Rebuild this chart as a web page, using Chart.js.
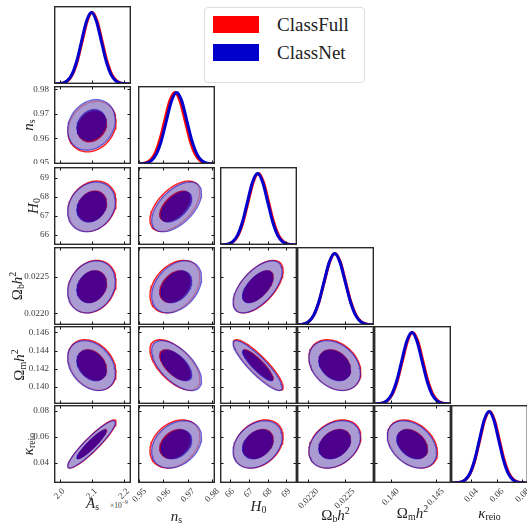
<!DOCTYPE html>
<html>
<head>
<meta charset="utf-8">
<script src="https://cdn.jsdelivr.net/npm/chart.js@4.4.1/dist/chart.umd.min.js"></script>
<style>
  body { margin: 0; width: 527px; height: 527px; overflow: hidden; background: #fff; position: relative;
         font-family: "Liberation Serif", "DejaVu Serif", serif; }
  .panel { position: absolute; }
  .axlab { position: absolute; font-size: 15px; line-height: 1; white-space: nowrap; color: #222;
           transform: translate(-50%, -50%); }
  .axlab.rot { transform: translate(-50%, -50%) rotate(-90deg); }
  .axlab sub { font-size: 66%; vertical-align: -0.3em; line-height: 0; }
  .axlab sup { font-size: 66%; vertical-align: 0.55em; line-height: 0; }
  #legend { position: absolute; left: 204px; top: 7px; width: 159px; height: 74px; border: 1px solid #ddd;
            border-radius: 4px; background: #fff; }
  #legend .sw { position: absolute; left: 8px; width: 46px; height: 17px; }
  #legend .tx { position: absolute; left: 72px; font-size: 19px; line-height: 1; color: #222; }
  #expo { position: absolute; left: 110px; top: 499px; font-size: 7.5px; color: #333; }
  #expo sup { font-size: 75%; }
</style>
</head>
<body>
<div id="legend">
  <div class="sw" style="top:8px;background:#ff0000"></div><div class="tx" style="top:7px">ClassFull</div>
  <div class="sw" style="top:36px;background:#0000cc"></div><div class="tx" style="top:35px">ClassNet</div>
</div>
<div id="expo">×10<sup>−9</sup></div>
<script>
// parameters: As(1e-9), ns, H0, ombh2, omh2, tau_reio
const PARAM_LABELS = [
  '<i>A</i><sub>s</sub>', '<i>n</i><sub>s</sub>', '<i>H</i><sub>0</sub>',
  'Ω<sub>b</sub><i>h</i><sup>2</sup>', 'Ω<sub>m</sub><i>h</i><sup>2</sup>', '<i>κ</i><sub>reio</sub>'
];
const MEAN_FULL = [2.101, 0.9648, 67.51, 0.022366, 0.14242, 0.0545];
const MEAN_NET = [2.099, 0.9655, 67.47, 0.022362, 0.14234, 0.0541];
const SIGMA_FULL = [0.0305, 0.0042, 0.54, 0.000146, 0.00113, 0.0076];
const SIGMA_NET = [0.0303, 0.0042, 0.535, 0.000145, 0.00112, 0.0075];
// correlation of row parameter with column parameter
const CORR = [
  [],
  [0.2],
  [0.2, 0.55],
  [0.2, 0.35, 0.6],
  [-0.3, -0.6, -0.88, -0.3],
  [0.92, 0.3, 0.3, 0.3, -0.35]
];
// 1D marginal shape, height against offset in sigma
const PROFILE_OFFSETS = [-3.5, -3, -2.5, -2, -1.5, -1, -0.5, 0, 0.5, 1, 1.5, 2, 2.5, 3, 3.5];
const PROFILE_HEIGHTS = [0.002, 0.011, 0.044, 0.135, 0.325, 0.607, 0.882, 1, 0.882, 0.607, 0.325, 0.135, 0.044, 0.011, 0.002];
const CONTOUR_RADII = [2.448, 1.51]; // 95% and 68%

const AXIS_MIN = [1.9825, 0.9496, 65.47, 0.021843, 0.13813, 0.02426];
const AXIS_MAX = [2.222, 0.9813, 69.57, 0.022905, 0.14669, 0.08465];
const X_TICKS = [[2.0, 2.1, 2.2], [0.95, 0.96, 0.97, 0.98], [66, 67, 68, 69], [0.0220, 0.0225], [0.140, 0.145], [0.04, 0.06, 0.08]];
const Y_TICKS = [[], [0.95, 0.96, 0.97, 0.98], [66, 67, 68, 69], [0.0220, 0.0225], [0.140, 0.142, 0.144, 0.146], [0.04, 0.06, 0.08]];
const TICK_DIGITS = [1, 2, 0, 4, 3, 2];

const COL_X = [54, 138, 220, 297, 374, 451];
const ROW_Y = [6, 86, 167, 247, 326, 405];
const PANEL_W = 77, PANEL_H = 78, LEFT_PAD = 54, BOTTOM_PAD = 44, SIDE_PAD = 14;
const LABEL_SHIFT = [4, 6, 3, 9, 7, 6];
const YLAB_POS = [null, [28, 125], [33, 206], [17, 286], [19, 365], [28, 444]];
const XLAB_Y = [503, 516, 506, 515, 513, 513];
const FONT = '"Liberation Serif", "DejaVu Serif", serif';

const RED = '#ff0000', BLUE = '#0000cc';

const framePlugin = {
  id: 'frame',
  afterDraw(chart, args, opts) {
    const { ctx, chartArea: a } = chart;
    ctx.save();
    ctx.strokeStyle = '#111';
    ctx.lineWidth = 1;
    ctx.beginPath();
    X_TICKS[opts.xp].forEach(v => {
      const px = Math.round(chart.scales.x.getPixelForValue(v)) + 0.5;
      if (px < a.left + 1 || px > a.right - 1) return;
      ctx.moveTo(px, a.bottom); ctx.lineTo(px, a.bottom - 3.5);
      if (!opts.diag) { ctx.moveTo(px, a.top); ctx.lineTo(px, a.top + 3.5); }
    });
    if (!opts.diag) {
      Y_TICKS[opts.yp].forEach(v => {
        const py = Math.round(chart.scales.y.getPixelForValue(v)) + 0.5;
        if (py < a.top + 1 || py > a.bottom - 1) return;
        ctx.moveTo(a.left, py); ctx.lineTo(a.left + 3.5, py);
        ctx.moveTo(a.right, py); ctx.lineTo(a.right - 3.5, py);
      });
    }
    ctx.stroke();
    ctx.strokeStyle = '#2a2a2a';
    ctx.lineWidth = 1.4;
    ctx.strokeRect(a.left + 0.7, a.top + 0.7, a.right - a.left - 1.4, a.bottom - a.top - 1.4);
    ctx.restore();
  }
};

function makeScale(p, axis, show, diag) {
  const isX = axis === 'x';
  return {
    type: 'linear',
    position: isX ? 'bottom' : 'left',
    display: show,
    min: diag && !isX ? 0 : AXIS_MIN[p],
    max: diag && !isX ? 1.09 : AXIS_MAX[p],
    grid: { display: false, drawTicks: false },
    border: { display: false },
    afterBuildTicks: s => {
      if (diag && !isX) return;
      s.ticks = (isX ? X_TICKS : Y_TICKS)[p].map(v => ({ value: v }));
    },
    afterFit: s => {
      if (show) {
        if (isX) s.height = BOTTOM_PAD; else s.width = LEFT_PAD;
      } else {
        s.width = 0; s.height = 0;
      }
      s.paddingLeft = 0; s.paddingRight = 0; s.paddingTop = 0; s.paddingBottom = 0;
    },
    ticks: {
      autoSkip: false,
      color: '#3a3a3a',
      font: { family: FONT, size: 9 },
      padding: isX ? 3 : 5,
      minRotation: isX ? 45 : 0,
      maxRotation: isX ? 45 : 0,
      labelOffset: isX ? LABEL_SHIFT[p] : 0,
      callback: v => Number(v).toFixed(TICK_DIGITS[p])
    }
  };
}

function profilePoints(mean, sigma, p) {
  const pts = [{ x: AXIS_MIN[p], y: 0 }];
  PROFILE_OFFSETS.forEach((o, k) => {
    const x = mean + o * sigma;
    if (x > AXIS_MIN[p] && x < AXIS_MAX[p]) pts.push({ x: x, y: PROFILE_HEIGHTS[k] });
  });
  pts.push({ x: AXIS_MAX[p], y: 0 });
  return pts;
}

function contourPoints(px, py, mean, sigma, rho, r) {
  const pts = [];
  const n = 64;
  for (let k = 0; k <= n; k++) {
    const t = 2 * Math.PI * k / n;
    pts.push({
      x: mean[px] + r * sigma[px] * Math.cos(t),
      y: mean[py] + r * sigma[py] * (rho * Math.cos(t) + Math.sqrt(1 - rho * rho) * Math.sin(t))
    });
  }
  return pts;
}

function lineSet(data, color) {
  return { data: data, showLine: true, borderColor: color, borderWidth: 3, pointRadius: 0,
           cubicInterpolationMode: 'monotone', fill: false };
}

function shapeSet(data, fillColor, edgeColor, width) {
  return { data: data, showLine: true, fill: 'shape', backgroundColor: fillColor,
           borderColor: edgeColor, borderWidth: width, pointRadius: 0, tension: 0 };
}

function makePanel(row, col) {
  const diag = row === col;
  const left = col === 0 && !diag;
  const bottom = row === 5;
  // bottom row gets room at the sides so the slanted tick labels are not cut
  const padL = left ? LEFT_PAD : (bottom ? SIDE_PAD : 0);
  const padR = bottom ? SIDE_PAD : 0;
  const w = PANEL_W + padL + padR;
  const h = PANEL_H + (bottom ? BOTTOM_PAD : 0);
  const div = document.createElement('div');
  div.className = 'panel';
  div.style.left = (COL_X[col] - padL) + 'px';
  div.style.top = ROW_Y[row] + 'px';
  div.style.width = w + 'px';
  div.style.height = h + 'px';
  const canvas = document.createElement('canvas');
  canvas.width = w; canvas.height = h;
  div.appendChild(canvas);
  document.body.appendChild(div);

  let datasets;
  if (diag) {
    datasets = [
      lineSet(profilePoints(MEAN_NET[col], SIGMA_NET[col], col), BLUE),
      lineSet(profilePoints(MEAN_FULL[col], SIGMA_FULL[col], col), RED)
    ];
  } else {
    const rho = CORR[row][col];
    datasets = [
      shapeSet(contourPoints(col, row, MEAN_NET, SIGMA_NET, rho, CONTOUR_RADII[1]), 'rgba(40,0,170,0.7)', 'rgba(0,0,204,0.3)', 1),
      shapeSet(contourPoints(col, row, MEAN_FULL, SIGMA_FULL, rho, CONTOUR_RADII[1]), 'rgb(160,0,70)', 'rgba(160,0,70,0.4)', 1),
      shapeSet(contourPoints(col, row, MEAN_NET, SIGMA_NET, rho, CONTOUR_RADII[0]), 'rgba(142,140,210,0.7)', 'rgba(0,0,204,0.55)', 1.2),
      shapeSet(contourPoints(col, row, MEAN_FULL, SIGMA_FULL, rho, CONTOUR_RADII[0]), 'rgb(235,190,210)', 'rgba(255,0,0,0.85)', 1.4)
    ];
  }

  new Chart(canvas, {
    type: 'scatter',
    data: { datasets: datasets },
    options: {
      responsive: false,
      animation: false,
      devicePixelRatio: 1,
      layout: { padding: { left: left ? 0 : padL, right: padR, top: 0, bottom: 0 } },
      events: [],
      scales: {
        x: makeScale(col, 'x', bottom, diag),
        y: makeScale(row, 'y', left, diag)
      },
      plugins: {
        legend: { display: false },
        tooltip: { enabled: false },
        frame: { xp: col, yp: row, diag: diag }
      }
    },
    plugins: [framePlugin]
  });
}

for (let row = 0; row < 6; row++) {
  for (let col = 0; col <= row; col++) makePanel(row, col);
}

// axis titles
PARAM_LABELS.forEach((html, p) => {
  const xl = document.createElement('div');
  xl.className = 'axlab';
  xl.innerHTML = html;
  xl.style.left = (COL_X[p] + PANEL_W / 2) + 'px';
  xl.style.top = XLAB_Y[p] + 'px';
  document.body.appendChild(xl);
  if (YLAB_POS[p]) {
    const yl = document.createElement('div');
    yl.className = 'axlab rot';
    yl.innerHTML = html;
    yl.style.left = YLAB_POS[p][0] + 'px';
    yl.style.top = YLAB_POS[p][1] + 'px';
    document.body.appendChild(yl);
  }
});
</script>
</body>
</html>
